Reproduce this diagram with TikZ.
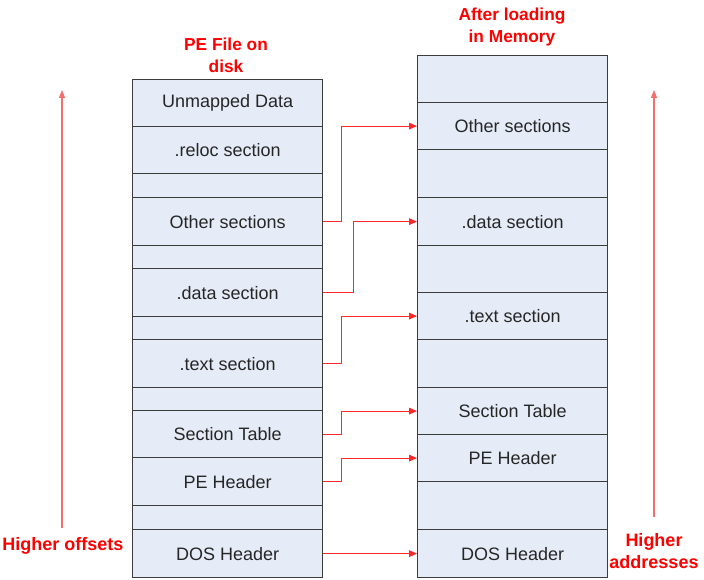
\documentclass[tikz,border=0pt]{standalone}
\usepackage{fontspec}
\setmainfont{Liberation Sans}
\usetikzlibrary{arrows.meta}
\definecolor{cellfill}{RGB}{230,236,247}
\definecolor{cellline}{RGB}{60,60,60}
\definecolor{arrred}{RGB}{255,40,40}
\definecolor{axred}{RGB}{245,110,110}
\definecolor{titred}{RGB}{255,0,0}
\begin{document}
\begin{tikzpicture}[x=0.75pt,y=-0.75pt,
  cell/.style={draw=cellline,fill=cellfill,line width=0.9pt,minimum width=142.5pt,
    anchor=north west,inner sep=0pt,font=\fontsize{13.5}{15}\selectfont,text=black!85},
  c47/.style={cell,minimum height=35.25pt},
  c48/.style={cell,minimum height=36pt},
  c24/.style={cell,minimum height=18pt},
  c23/.style={cell,minimum height=17.25pt},
  arr/.style={draw=arrred,line width=0.8pt,-{Triangle[length=6pt,width=5pt]}},
  axis/.style={draw=axred,line width=0.9pt,-{Triangle[length=6pt,width=4.5pt]}},
  title/.style={text=titred,font=\bfseries\fontsize{13}{16.5}\selectfont,align=center},
  side/.style={text=titred,font=\bfseries\fontsize{13.5}{16.5}\selectfont,align=center}]
\useasboundingbox (0,0) rectangle (704,580);
% left column: PE file on disk
\node[c47] (L1) at (132,79) {Unmapped Data};
\node[c47] (L2) at (132,126) {.reloc section};
\node[c24] (L3) at (132,173) {};
\node[c48] (L4) at (132,197) {Other sections};
\node[c23] (L5) at (132,245) {};
\node[c48] (L6) at (132,268) {.data section};
\node[c23] (L7) at (132,316) {};
\node[c48] (L8) at (132,339) {.text section};
\node[c23] (L9) at (132,387) {};
\node[c47] (L10) at (132,410) {Section Table};
\node[c48] (L11) at (132,457) {PE Header};
\node[c24] (L12) at (132,505) {};
\node[c48] (L13) at (132,529) {DOS Header};
% right column: after loading in memory
\node[c47] (R1) at (417,55) {};
\node[c47] (R2) at (417,102) {Other sections};
\node[c48] (R3) at (417,149) {};
\node[c48] (R4) at (417,197) {.data section};
\node[c47] (R5) at (417,245) {};
\node[c47] (R6) at (417,292) {.text section};
\node[c48] (R7) at (417,339) {};
\node[c47] (R8) at (417,387) {Section Table};
\node[c47] (R9) at (417,434) {PE Header};
\node[c48] (R10) at (417,481) {};
\node[c48] (R11) at (417,529) {DOS Header};
% titles
\node[title] (T1) at (226,55) {PE File on\\disk};
\node[title] (T2) at (512,27) {After loading\\in Memory};
% mapping arrows
\draw[arr] (L4.east) -- ++(18,0) |- (R2.west);
\draw[arr] (L6.east) -- ++(30,0) |- (R4.west);
\draw[arr] (L8.east) -- ++(18,0) |- (R6.west);
\draw[arr] (L10.east) -- ++(18,0) |- (R8.west);
\draw[arr] (L11.east) -- ++(18,0) |- (R9.west);
\draw[arr] (L13.east) -- (R11.west);
% side axes
\coordinate (A1) at (62,528);
\coordinate (A2) at (62,90);
\coordinate (B1) at (654,517);
\coordinate (B2) at (654,90);
\draw[axis] (A1) -- (A2);
\draw[axis] (B1) -- (B2);
\node[side] (S1) at (63,546) {Higher offsets};
\node[side] (S2) at (654,551) {Higher\\addresses};
\end{tikzpicture}
\end{document}
